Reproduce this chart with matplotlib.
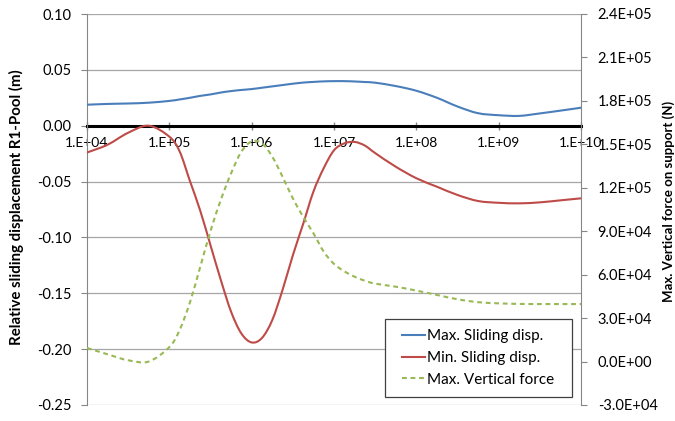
import matplotlib
matplotlib.use("Agg")
import matplotlib.pyplot as plt
from matplotlib.lines import Line2D
from matplotlib.path import Path
from matplotlib.patches import PathPatch, Rectangle
import numpy as np

# log10 of the x values (frequency-like axis)
x_exp = [4.0, 4.25, 4.5, 4.75,
         5.0, 5.125, 5.25, 5.375, 5.5, 5.625, 5.75, 5.875,
         6.0, 6.125, 6.25, 6.375, 6.5, 6.625, 6.75, 6.875,
         7.0, 7.125, 7.25, 7.375, 7.5, 7.75, 8.0, 8.25, 8.5, 8.75,
         9.0, 9.25, 9.5, 9.75, 10.0]

max_sliding = [0.0188, 0.0195, 0.0199, 0.0206,
               0.0222, 0.0235, 0.0250, 0.0267, 0.0280, 0.0297, 0.0310, 0.0320,
               0.0328, 0.0340, 0.0352, 0.0364, 0.0376, 0.0386, 0.0392, 0.0397,
               0.0399, 0.0399, 0.0396, 0.0391, 0.0385, 0.0355, 0.0313, 0.0250, 0.0172, 0.0112,
               0.0094, 0.0088, 0.0110, 0.0135, 0.0161]

min_sliding = [-0.024, -0.017, -0.0063, 0.0,
               -0.0098, -0.023, -0.0495, -0.076, -0.107, -0.138, -0.1665, -0.186,
               -0.194, -0.190, -0.174, -0.147, -0.116, -0.088, -0.059, -0.038,
               -0.022, -0.0158, -0.0145, -0.0178, -0.0245, -0.0367, -0.047, -0.0546, -0.062, -0.0674,
               -0.069, -0.0695, -0.0686, -0.0668, -0.065]

max_vert_force = [9400, 5000, 900, 0,
                  10000, 21800, 40800, 65300, 90150, 111600, 130000, 144900,
                  152000, 150700, 141500, 127600, 112700, 100000, 88600, 75900,
                  67400, 62300, 58600, 55800, 53800, 51700, 49000, 46000, 43000, 41000,
                  40200, 39800, 39700, 39700, 39700]

left_ticks = [-0.25, -0.20, -0.15, -0.10, -0.05, 0.00, 0.05, 0.10]
right_ticks = [-3.0e4, 0.0, 3.0e4, 6.0e4, 9.0e4, 1.2e5, 1.5e5, 1.8e5, 2.1e5, 2.4e5]
x_tick_exp = [4, 5, 6, 7, 8, 9, 10]

series_labels = ["Max. Sliding disp.", "Min. Sliding disp.", "Max. Vertical force"]
left_label = "Relative sliding displacement R1-Pool (m)"
right_label = "Max. Vertical force on support (N)"

plt.rcParams['font.family'] = ['Lato', 'DejaVu Sans']

W, H = 675, 421
fig = plt.figure(figsize=(W / 100, H / 100), dpi=100)
ax = fig.add_axes([87 / W, 16 / H, (581 - 87) / W, (405 - 14) / H])
ax2 = ax.twinx()

c_blue = "#4A7EBB"
c_red = "#BE4B48"
c_green = "#98B954"
LW = 1.5
DASH = (0, (2.3, 1.8))


def smooth_line(axis, xe, ys, **kw):
    """Draw a smoothed (Catmull-Rom / Bezier) line through the data points,
    like a spreadsheet 'smoothed line', using the axis' own log-x transform."""
    lx = np.asarray(xe, float)
    yy = np.asarray(ys, float)
    n = len(lx)
    verts = [(10 ** lx[0], yy[0])]
    codes = [Path.MOVETO]
    for i in range(n - 1):
        i0 = max(i - 1, 0)
        i3 = min(i + 2, n - 1)
        c1x = lx[i] + (lx[i + 1] - lx[i0]) / 6.0
        c1y = yy[i] + (yy[i + 1] - yy[i0]) / 6.0
        c2x = lx[i + 1] - (lx[i3] - lx[i]) / 6.0
        c2y = yy[i + 1] - (yy[i3] - yy[i]) / 6.0
        verts += [(10 ** c1x, c1y), (10 ** c2x, c2y), (10 ** lx[i + 1], yy[i + 1])]
        codes += [Path.CURVE4] * 3
    patch = PathPatch(Path(verts, codes), fill=False, **kw)
    axis.add_patch(patch)
    return patch


ax.set_xscale('log')
ax2.set_xscale('log')
ax.set_xlim(1e4, 1e10)
ax.set_ylim(-0.25, 0.10)
ax2.set_ylim(-3.0e4, 2.4e5)

smooth_line(ax, x_exp, max_sliding, edgecolor=c_blue, lw=LW, zorder=3, capstyle='round')
smooth_line(ax, x_exp, min_sliding, edgecolor=c_red, lw=LW, zorder=3, capstyle='round')
smooth_line(ax2, x_exp, max_vert_force, edgecolor=c_green, lw=LW, linestyle=DASH, zorder=3)

ax.set_yticks(left_ticks)
ax.set_yticklabels([f"{v:.2f}" if abs(v) > 1e-9 else "0.00" for v in left_ticks])
ax2.set_yticks(right_ticks)
ax2.set_yticklabels([f"{v:.1E}" for v in right_ticks])

xt = [10 ** k for k in x_tick_exp]
ax.set_xticks(xt)
ax.set_xticklabels([f"1.E+{k:02d}" for k in x_tick_exp])
ax.xaxis.set_minor_locator(matplotlib.ticker.NullLocator())
ax2.xaxis.set_minor_locator(matplotlib.ticker.NullLocator())

ax.grid(axis='y', color='#A6A6A6', lw=0.9)
ax.set_axisbelow(True)

for a in (ax, ax2):
    a.spines['top'].set_visible(False)
ax.spines['bottom'].set_position(('data', 0))
ax.spines['bottom'].set_color('black')
ax.spines['bottom'].set_linewidth(2.2)
ax.spines['bottom'].set_zorder(2)
ax.spines['left'].set_color('#868686')
ax.spines['right'].set_visible(False)
ax2.spines['left'].set_visible(False)
ax2.spines['bottom'].set_visible(False)
ax2.spines['right'].set_color('#868686')

ax.tick_params(axis='x', direction='inout', length=6, width=1, color='#868686',
               labelsize=10, pad=5)
ax.tick_params(axis='y', direction='out', length=4, color='#868686', labelsize=10.5, pad=7)
ax2.tick_params(axis='y', direction='out', length=4, color='#868686', labelsize=10.5, pad=8)

ax.set_ylabel(left_label, fontsize=10.8, fontweight='bold', va='center')
ax.yaxis.set_label_coords((16 - 87) / 494, (405 - 207.5) / 391)
ax2.set_ylabel(right_label, fontsize=9.5, fontweight='bold', va='center')
ax2.yaxis.set_label_coords((669 - 87) / 494, (405 - 201) / 391)

# legend box
fig.add_artist(Rectangle((385 / W, 1 - 397 / H), (571.5 - 385) / W, (397 - 319) / H,
                         transform=fig.transFigure, facecolor='white',
                         edgecolor='#404040', lw=0.9, zorder=5))
handles = [Line2D([], [], color=c_blue, lw=LW),
           Line2D([], [], color=c_red, lw=LW),
           Line2D([], [], color=c_green, lw=LW, ls=DASH)]
leg = fig.legend(handles, series_labels, loc='center',
                 bbox_to_anchor=(478 / W, 1 - 358 / H), bbox_transform=fig.transFigure,
                 fontsize=11, frameon=False, handlelength=1.5,
                 handletextpad=0.15, borderpad=0, labelspacing=0.5, borderaxespad=0)
leg.set_zorder(6)

fig.savefig("out.png", dpi=100)
